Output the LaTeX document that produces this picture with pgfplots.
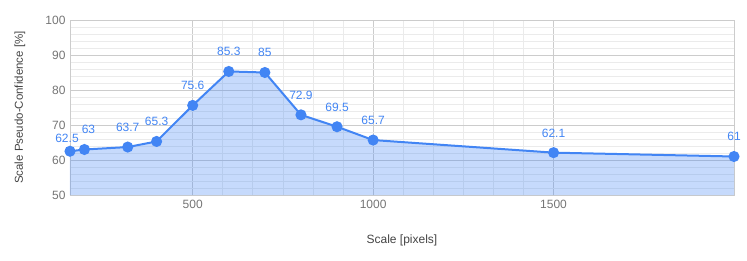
\documentclass[border=0pt]{standalone}
\usepackage{pgfplots}
\pgfplotsset{compat=1.18}
\usepackage{fontspec}
\setmainfont{Liberation Sans}
\definecolor{gblue}{HTML}{4285F4}
\definecolor{tickgray}{HTML}{757575}
\definecolor{labgray}{HTML}{444444}
\definecolor{majgrid}{HTML}{CCCCCC}
\definecolor{mingrid}{HTML}{EBEBEB}
\begin{document}
\begin{tikzpicture}[x=1pt,y=1pt]
\useasboundingbox (0,0) rectangle (747,260);
\begin{axis}[
  at={(70pt,65pt)}, anchor=south west,
  scale only axis, width=664pt, height=175pt,
  xmin=160, xmax=2000, ymin=50, ymax=100,
  xtick={500,1000,1500}, ytick={50,60,70,80,90,100},
  minor x tick num=5, minor y tick num=4,
  grid=both,
  major grid style={majgrid, line width=0.8pt},
  minor grid style={mingrid, line width=0.8pt},
  axis line style={majgrid, line width=0.8pt},
  tick style={draw=none},
  /pgf/number format/assume math mode=true,
  /pgf/number format/1000 sep={},
  ticklabel style={font=\fontsize{12}{14}\selectfont, text=tickgray},
  xticklabel style={yshift=-2pt},
  yticklabel style={xshift=-1pt},
  xlabel={Scale [pixels]},
  ylabel={Scale Pseudo-Confidence [\%]},
  every axis x label/.style={at={(rel axis cs:0.5,0)}, anchor=center, yshift=-45pt, font=\fontsize{12}{14}\selectfont, text=labgray},
  every axis y label/.style={at={(rel axis cs:0,0.5)}, anchor=center, rotate=90, yshift=50pt, font=\fontsize{11.5}{14}\selectfont, text=labgray},
  clip=true,
  labelstyle/.style={nodes near coords, point meta=explicit symbolic, draw=none, mark=none,
    every node near coord/.append style={font=\fontsize{12}{14}\selectfont, text=gblue}},
]
\addplot[draw=none, fill=gblue, fill opacity=0.3] coordinates {
(160,62.5) (200,63) (320,63.7) (400,65.3) (500,75.6) (600,85.3) (700,85) (800,72.9) (900,69.5) (1000,65.7) (1500,62.1) (2000,61)
} \closedcycle;
\addplot[gblue, line width=2pt, mark=*, mark size=4.5pt, mark options={fill=gblue, draw=gblue}] coordinates {
(160,62.5) (200,63) (320,63.7) (400,65.3) (500,75.6) (600,85.3) (700,85) (800,72.9) (900,69.5) (1000,65.7) (1500,62.1) (2000,61)
};
\addplot[labelstyle, every node near coord/.append style={yshift=12pt}] coordinates {
(320,63.7) [63.7] (400,65.3) [65.3] (500,75.6) [75.6] (600,85.3) [85.3] (700,85) [85] (800,72.9) [72.9] (900,69.5) [69.5] (1000,65.7) [65.7] (1500,62.1) [62.1] (2000,61) [61]
};
\addplot[labelstyle, every node near coord/.append style={yshift=5pt, xshift=-3pt}] coordinates {
(160,62.5) [62.5]
};
\addplot[labelstyle, every node near coord/.append style={yshift=12pt, xshift=4pt}] coordinates {
(200,63) [63]
};
\end{axis}
\end{tikzpicture}
\end{document}
